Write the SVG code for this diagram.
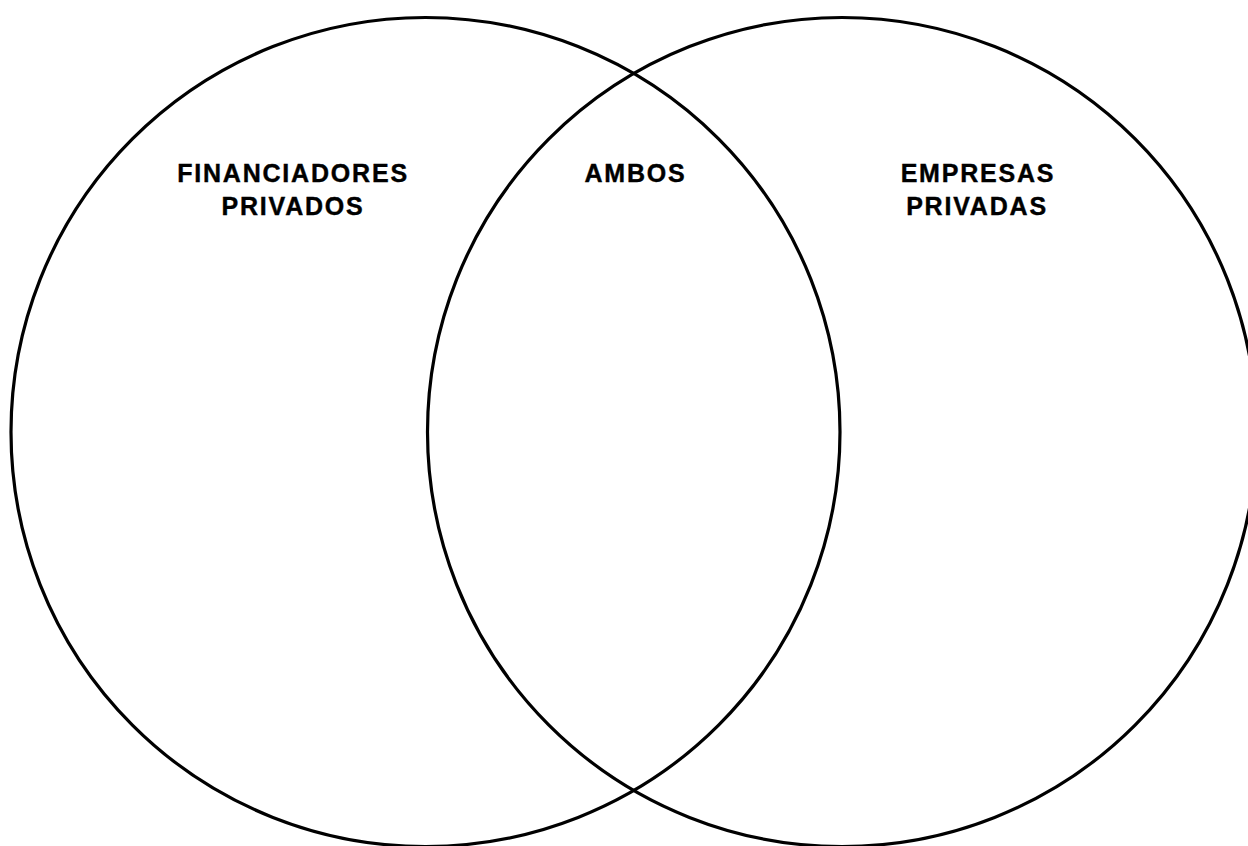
<svg xmlns="http://www.w3.org/2000/svg" width="1248" height="846" viewBox="0 0 1248 846">
<style>
.c{fill:none;stroke:#000;stroke-width:3.2}
.t{font-family:"Liberation Sans",Arial,sans-serif;font-weight:bold;font-size:25px;fill:#000;text-anchor:middle;letter-spacing:1.8px;stroke:#000;stroke-width:0.4}
</style>
<rect width="1248" height="846" fill="#fff"/>
<g id="left">
<circle class="c" cx="425.5" cy="432" r="414.5"/>
<text class="t" x="293" y="182">FINANCIADORES</text>
<text class="t" x="293" y="215">PRIVADOS</text>
</g>
<g id="right">
<circle class="c" cx="842" cy="432" r="414.5"/>
<text class="t" x="978" y="182">EMPRESAS</text>
<text class="t" x="977" y="215">PRIVADAS</text>
</g>
<g id="both">
<text class="t" x="635.5" y="182">AMBOS</text>
</g>
</svg>
